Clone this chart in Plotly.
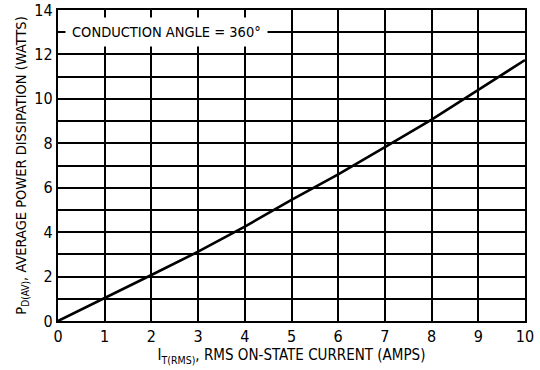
import plotly.graph_objects as go

current_amps = [0, 1, 2, 3, 4, 5, 6, 7, 8, 9, 10]
power_watts = [0, 1.02, 2.07, 3.12, 4.25, 5.45, 6.6, 7.83, 9.07, 10.4, 11.75]
x_ticks = [0, 1, 2, 3, 4, 5, 6, 7, 8, 9, 10]
y_ticks = [0, 2, 4, 6, 8, 10, 12, 14]
annotation_text = "CONDUCTION ANGLE = 360°"

FONT = "Liberation Sans Narrow, Arial Narrow, DejaVu Sans Condensed, sans-serif"

fig = go.Figure()
fig.add_trace(go.Scatter(
    x=current_amps, y=power_watts, mode="lines",
    line=dict(color="black", width=2.6),
    showlegend=False, hoverinfo="skip",
))

fig.add_annotation(
    x=0.15, y=13, xref="x", yref="y", xanchor="left", yanchor="middle",
    text=annotation_text, showarrow=False,
    font=dict(family=FONT, size=14.5, color="black"),
    bgcolor="white", borderpad=6,
)

fig.update_xaxes(
    range=[0, 10], tickvals=x_ticks, showgrid=True, gridcolor="black", gridwidth=1.6,
    showline=True, linecolor="black", linewidth=2.4, mirror=True, zeroline=False,
    ticks="", tickfont=dict(family=FONT, size=16, color="black"), automargin=False,
    title=dict(text="I<sub>T(RMS)</sub>, RMS ON-STATE CURRENT (AMPS)",
               font=dict(family=FONT, size=15, color="black"), standoff=2),
)
fig.update_yaxes(
    range=[0, 14], tickvals=y_ticks, showgrid=True, gridcolor="black", gridwidth=1.6,
    minor=dict(dtick=1, showgrid=True, gridcolor="black", gridwidth=1.6),
    showline=True, linecolor="black", linewidth=2.4, mirror=True, zeroline=False,
    ticks="", tickfont=dict(family=FONT, size=16, color="black"), automargin=False,
    title=dict(text="P<sub>D(AV)</sub>, AVERAGE POWER DISSIPATION (WATTS)",
               font=dict(family=FONT, size=14.5, color="black"), standoff=4),
)

fig.update_layout(
    width=540, height=370,
    margin=dict(l=58, r=15, t=10, b=49),
    paper_bgcolor="white", plot_bgcolor="white",
)

fig.write_html("out.html", config={"displayModeBar": False},
               post_script="document.body.style.margin='0';")
